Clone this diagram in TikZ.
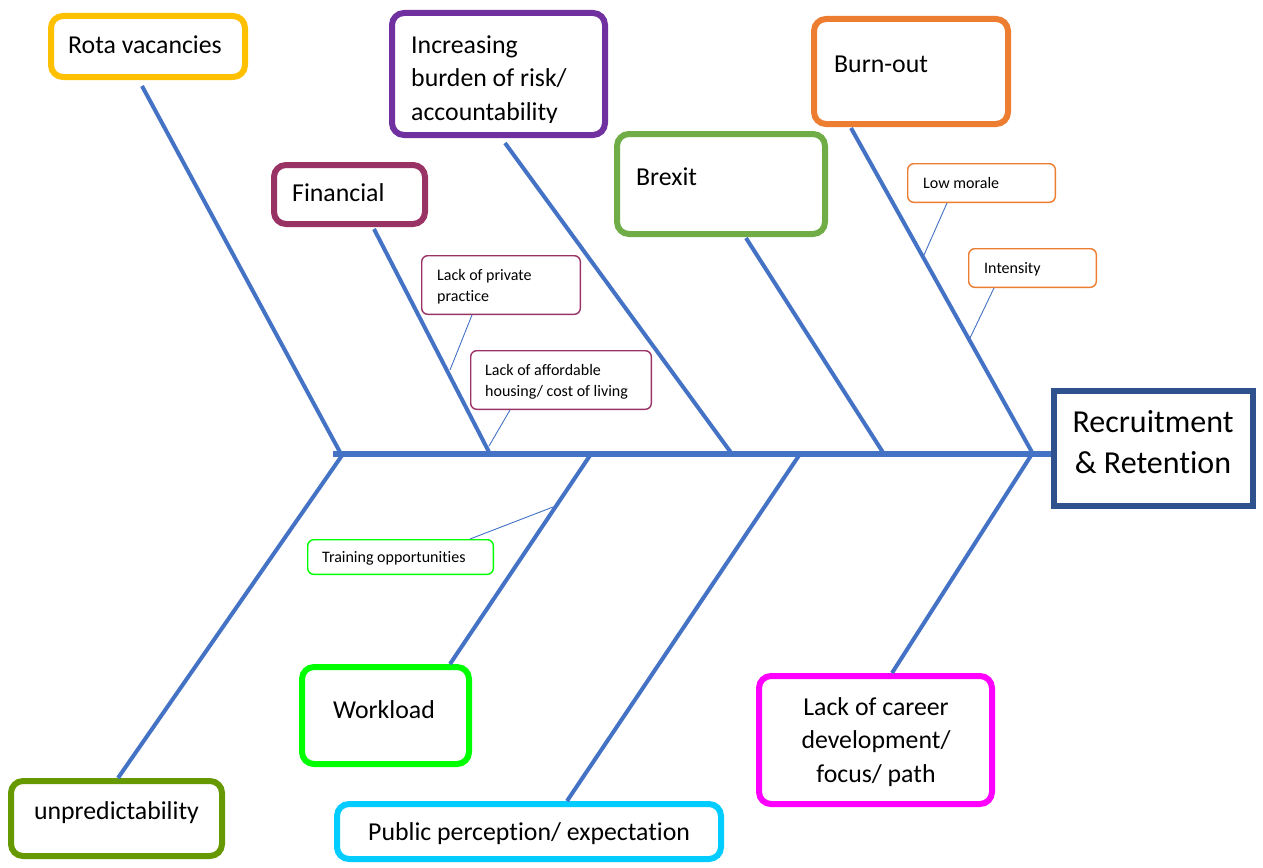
\documentclass[tikz,border=0pt]{standalone}
\usepackage{fontspec}
\setmainfont{Carlito}[Ligatures=NoCommon]
\usetikzlibrary{calc}
\definecolor{cYel}{HTML}{FFC000}
\definecolor{cPur}{HTML}{7030A0}
\definecolor{cPlum}{HTML}{993366}
\definecolor{cBrx}{HTML}{70AD47}
\definecolor{cOra}{HTML}{ED7D31}
\definecolor{cNavy}{HTML}{2F528F}
\definecolor{cOli}{HTML}{669900}
\definecolor{cLime}{HTML}{00FF00}
\definecolor{cCyan}{HTML}{00CCFF}
\definecolor{cMag}{HTML}{FF00FF}
\definecolor{bblue}{HTML}{4472C4}
\begin{document}
\begin{tikzpicture}[x=1pt,y=-1pt,
  bigbox/.style={draw=#1, line width=6pt, rounded corners=12pt, fill=white, inner sep=0pt},
  smallbox/.style={draw=#1, line width=1.4pt, rounded corners=6pt, fill=white, inner sep=0pt},
  bigtxt/.style={font=\fontsize{25.8}{33.5}\selectfont, inner sep=0pt, align=left},
  smalltxt/.style={font=\fontsize{16}{21.5}\selectfont, inner sep=0pt, align=left},
  bone/.style={draw=bblue, line width=4pt},
  spine/.style={draw=bblue, line width=6pt},
  twig/.style={draw=bblue, line width=0.9pt}]
\useasboundingbox (0,0) rectangle (1263,867);
\fill[white] (0,0) rectangle (1263,867);

% boxes
\node[bigbox=cYel, minimum width=194, minimum height=61] (rota) at (148,46.5) {};
\node[bigbox=cPur, minimum width=213, minimum height=122] (risk) at (498.5,74) {};
\node[bigbox=cPlum, minimum width=151, minimum height=59] (fin) at (349.5,194.5) {};
\node[bigbox=cBrx, minimum width=208, minimum height=100] (brx) at (721,184) {};
\node[bigbox=cOra, minimum width=194, minimum height=105] (burn) at (911,71.5) {};
\node[draw=cNavy, line width=6pt, fill=white, inner sep=0pt, minimum width=199, minimum height=115] (rec) at (1153.5,448.5) {};
\node[bigbox=cOli, minimum width=211, minimum height=75] (unp) at (116.5,818.5) {};
\node[bigbox=cLime, minimum width=167, minimum height=97] (work) at (385.5,715.5) {};
\node[bigbox=cCyan, minimum width=384, minimum height=55] (pub) at (529,831.5) {};
\node[bigbox=cMag, minimum width=233, minimum height=128] (car) at (875.5,740) {};

\node[smallbox=cPlum, minimum width=158.6, minimum height=58.6] (priv) at (501,285) {};
\node[smallbox=cPlum, minimum width=180.6, minimum height=58.6] (hous) at (561,380) {};
\node[smallbox=cOra, minimum width=147.6, minimum height=38.6] (mor) at (981.5,183) {};
\node[smallbox=cOra, minimum width=127.6, minimum height=38.6] (int) at (1032.5,268) {};
\node[smallbox=cLime, minimum width=185.6, minimum height=34.6] (trn) at (400.5,557) {};

% spine and bones
\coordinate (spL) at (333,454);
\coordinate (j1) at (341,454);
\coordinate (j2) at (490,454);
\coordinate (j3) at (732,454);
\coordinate (j4) at (884,454);
\coordinate (j5) at (1033,454);
\coordinate (k1) at (343,454);
\coordinate (k2) at (591,454);
\coordinate (k3) at (800,454);
\coordinate (k4) at (1032,454);
\coordinate (t1) at (450,370);
\coordinate (t2) at (489,446);
\coordinate (t3) at (924,255);
\coordinate (t4) at (970,338);
\coordinate (t5) at (553,507);

\draw[bone] (rota.south) ++(-6,6) -- (j1);
\draw[bone] (fin.south) ++(24.5,2) -- (j2);
\draw[bone] (risk.south) ++(6.5,5) -- (j3);
\draw[bone] (brx.south) ++(25,1) -- (j4);
\draw[bone] (burn.south) ++(-60,1) -- (j5);
\draw[bone] (unp.north) ++(1.5,0) -- (k1);
\draw[bone] (work.north) ++(64.5,0) -- (k2);
\draw[bone] (pub.north) ++(38,0) -- (k3);
\draw[bone] (car.north) ++(16.5,0) -- (k4);
\draw[spine] (spL) -- ([yshift=-5.5pt]rec.west);

\draw[twig] (priv.south) ++(-29,0) -- (t1);
\draw[twig] (hous.south) ++(-51,0) -- (t2);
\draw[twig] (mor.south) ++(-34.5,0) -- (t3);
\draw[twig] (int.south) ++(-38.5,0) -- (t4);
\draw[twig] (trn.north) ++(69.5,0) -- (t5);

% texts (multi-line nodes: base anchor = last line)
\node[bigtxt, anchor=base west] (rotaT) at (68,53) {Rota vacancies};
\begin{scope}
\clip (389,10) rectangle (608,122);
\node[bigtxt, anchor=base west] (riskT) at (411,120) {Increasing\\burden of risk/\\accountability};
\end{scope}
\node[bigtxt, anchor=base west] (finT) at (292,201) {Financial};
\node[bigtxt, anchor=base west] (brxT) at (636,185) {Brexit};
\node[bigtxt, anchor=base west] (burnT) at (834,73) {Burn-out};
\node[font=\fontsize{32}{41}\selectfont, inner sep=0pt, align=center, anchor=base] (recT) at (1153,473) {Recruitment\\\& Retention};
\node[bigtxt, anchor=base] (unpT) at (116.5,819) {unpredictability};
\node[bigtxt, anchor=base] (workT) at (384,718) {Workload};
\node[bigtxt, anchor=base west] (pubT) at (368,840) {Public perception/ expectation};
\node[bigtxt, align=center, anchor=base] (carT) at (876,782) {Lack of career\\development/\\focus/ path};

\node[smalltxt, anchor=base west] (privT) at (437,301.5) {Lack of private\\practice};
\node[smalltxt, anchor=base west] (housT) at (485,396.5) {Lack of affordable\\housing/ cost of living};
\node[smalltxt, anchor=base west] (morT) at (923,188) {Low morale};
\node[smalltxt, anchor=base west] (intT) at (984,273) {Intensity};
\node[smalltxt, anchor=base west] (trnT) at (322,562) {Training opportunities};
\end{tikzpicture}
\end{document}
